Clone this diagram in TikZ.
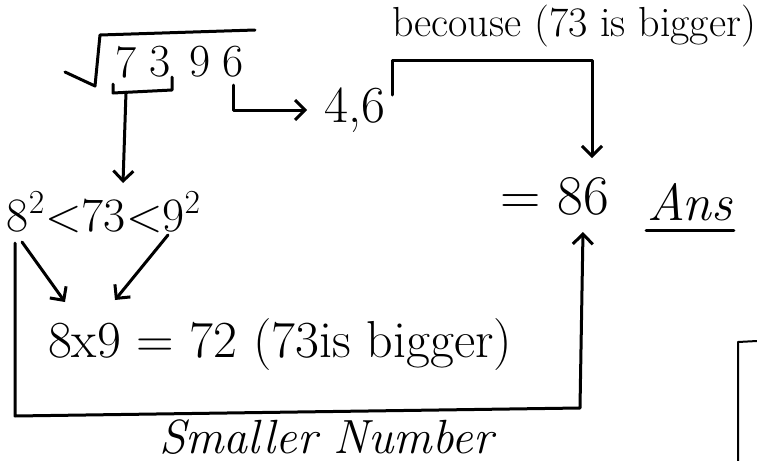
\documentclass[tikz,border=0pt]{standalone}
\usepackage{fontspec}
\usepackage{tikz}
\usetikzlibrary{arrows.meta}

\begin{document}
\begin{tikzpicture}[x=0.5pt, y=-0.5pt, line width=1.5pt, line cap=round, line join=round,
    >={Straight Barb[length=5pt,width=10pt]},
    txt/.style={inner sep=0pt, font=\fontsize{#1}{#1}\selectfont}]
  \useasboundingbox (0,0) rectangle (757,461);

  % digits under the root
  \foreach \d/\x in {7/126,3/160,9/200,6/233}
    \node[txt=23] (d\d) at (\x,62) {\d};
  \draw (65,72) -- (95,86) -- (100,35) -- (255,30);

  \node[txt=26] (res) at (355,110) {4,6};
  \node[txt=21] (because) at (574,26) {becouse (73 is bigger)};
  \node[txt=24] (ineq) at (104,212) {8\textsuperscript{2}<73<9\textsuperscript{2}};
  \node[txt=28] (ans) at (555,196) {= 86};
  \node[txt=26] (anslbl) at (690,202) {\itshape Ans};
  \node[txt=26] (prod) at (280,345) {8x9 = 72 (73is bigger)};
  \node[txt=24] (small) at (326,437) {\itshape Smaller Number};

  \coordinate (B73) at (126,92);
  \coordinate (T73) at (123,183);
  \coordinate (R6) at (392,95);
  \coordinate (A86) at (592,158);
  \coordinate (L8) at (15,243);
  \coordinate (U86) at (583,232);

  \draw (113,84) -- (113,93) -- (172,90) -- (172,77);
  \draw[->] (B73) -- (T73);
  \draw[->] ([yshift=-3pt]d6.south) |- ([xshift=-8pt]res.west);
  \draw[->] (R6) -- ++(0,-35) -| (A86);
  \draw ([yshift=-4pt]anslbl.south west) -- ([yshift=-4pt]anslbl.south east);

  \draw[->] (22,242) -- (65,302);
  \draw[->] (168,235) -- (115,300);
  \draw[->] (L8) -- (15,416) -- (580,408) -- (U86);

  \draw[line width=1pt] (738,461) -- (738,342) -- (757,341);
\end{tikzpicture}
\end{document}
